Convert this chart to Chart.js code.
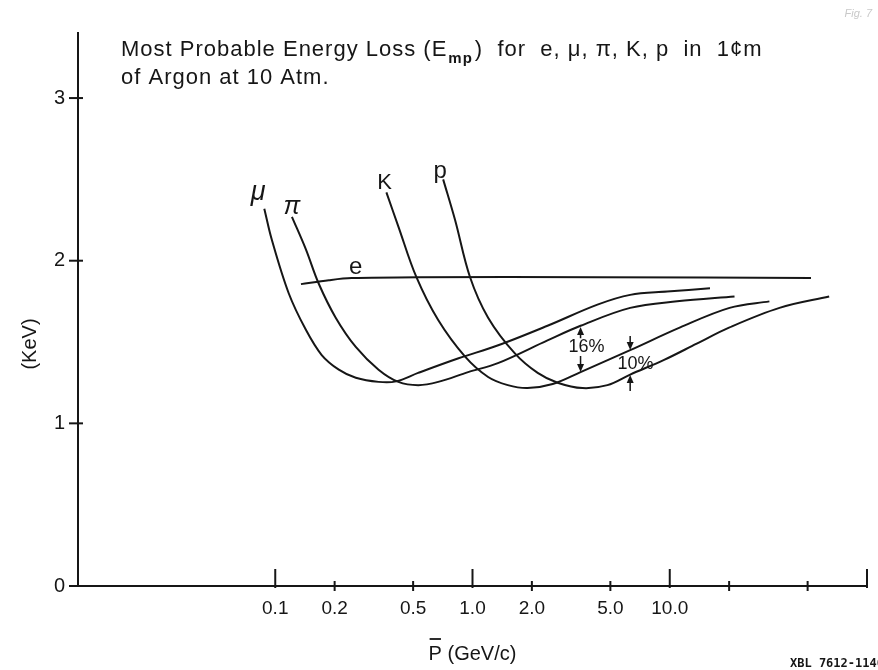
<!DOCTYPE html>
<html>
<head>
<meta charset="utf-8">
<script src="https://cdn.jsdelivr.net/npm/chart.js@4.4.1/dist/chart.umd.min.js"></script>
<style>
  html, body { margin: 0; padding: 0; background: #fff; }
  #wrap { width: 878px; height: 670px; }
</style>
</head>
<body>
<div id="wrap"><canvas id="grafico" width="878" height="670"></canvas></div>
<script>
// momentum (GeV/c) and most probable loss (keV)
const muP = [0.088, 0.096, 0.117, 0.143, 0.172, 0.21, 0.256, 0.334, 0.41, 0.53, 0.85, 1.35, 2.4, 4.3, 6.3, 9.7, 16];
const muE = [2.32, 2.13, 1.80, 1.575, 1.42, 1.33, 1.28, 1.255, 1.258, 1.31, 1.40, 1.48, 1.60, 1.73, 1.79, 1.81, 1.83];

const piP = [0.1215, 0.143, 0.166, 0.2025, 0.256, 0.334, 0.421, 0.531, 0.67, 0.95, 1.345, 2.4, 3.53, 6.3, 10.9, 21.3];
const piE = [2.27, 2.07, 1.86, 1.65, 1.47, 1.33, 1.255, 1.235, 1.255, 1.315, 1.37, 1.51, 1.60, 1.71, 1.75, 1.78];

const kP = [0.366, 0.421, 0.519, 0.67, 0.917, 1.2, 1.51, 1.9, 2.55, 3.53, 6.3, 11.3, 20.1, 32];
const kE = [2.42, 2.21, 1.90, 1.635, 1.41, 1.285, 1.235, 1.217, 1.242, 1.315, 1.45, 1.59, 1.71, 1.75];

const pP = [0.71, 0.816, 0.971, 1.2, 1.64, 2.14, 2.7, 3.61, 4.83, 6.3, 9.36, 13.7, 20.1, 36, 64.3];
const pE = [2.50, 2.25, 1.90, 1.65, 1.43, 1.31, 1.25, 1.217, 1.235, 1.30, 1.39, 1.49, 1.59, 1.71, 1.78];

const eP = [0.135, 0.187, 0.244, 0.531, 4.3, 52];
const eE = [1.856, 1.88, 1.893, 1.899, 1.899, 1.893];

const xTicks = [0.1, 0.2, 0.5, 1, 2, 5, 10, 20, 50, 100];
const xTickLabels = ["0.1", "0.2", "0.5", "1.0", "2.0", "5.0", "10.0", "", "", ""];
const yTicks = [0, 1, 2, 3];

// curve names, placed in data units
const curveLabels = [
  { text: "\u03bc", p: 0.082, e: 2.42, italic: true, size: 27 },
  { text: "\u03c0", p: 0.1215, e: 2.33, italic: true, size: 25 },
  { text: "K", p: 0.358, e: 2.48, size: 22 },
  { text: "p", p: 0.686, e: 2.55, size: 24 },
  { text: "e", p: 0.2555, e: 1.96, size: 24 }
];

// relative rise markers (keV ends of the arrows)
const riseMarks = [
  { p: 3.53, top: 1.592, gapTop: 1.524, gapBottom: 1.414, bottom: 1.315, text: "16%", tp: 3.78, te: 1.469, outward: true },
  { p: 6.3, top: 1.451, bottom: 1.297, text: "10%", tp: 6.7, te: 1.364, outward: false }
];

const ink = "#161616";
const fam = "'Liberation Sans', Arial, sans-serif";

const pts = (xs, ys) => xs.map((v, i) => ({ x: v, y: ys[i] }));

function linha(xs, ys) {
  return {
    data: pts(xs, ys),
    borderColor: ink,
    borderWidth: 2,
    pointRadius: 0,
    fill: false,
    tension: 0.35
  };
}

function seta(ctx, x, y, dir) {
  // filled arrow head, tip at (x,y); dir=-1 points up, 1 points down
  ctx.beginPath();
  ctx.moveTo(x, y);
  ctx.lineTo(x - 3.5, y - dir * 8);
  ctx.lineTo(x + 3.5, y - dir * 8);
  ctx.closePath();
  ctx.fill();
}

const desenho = {
  id: "desenho",
  afterDraw(chart) {
    const ctx = chart.ctx;
    const xs = chart.scales.x;
    const ys = chart.scales.y;
    const X = v => xs.getPixelForValue(v);
    const Y = v => ys.getPixelForValue(v);
    const y0 = Y(0);
    const x0 = chart.chartArea.left;

    ctx.save();
    ctx.strokeStyle = ink;
    ctx.fillStyle = ink;
    ctx.lineWidth = 2;

    // tick marks
    xTicks.forEach(v => {
      const x = X(v);
      const major = Math.abs(Math.log10(v) - Math.round(Math.log10(v))) < 1e-9;
      ctx.beginPath();
      ctx.moveTo(x, y0 + (major ? 2 : 5));
      ctx.lineTo(x, y0 - (major ? 17 : 5));
      ctx.stroke();
    });
    yTicks.forEach(v => {
      const y = Y(v);
      ctx.beginPath();
      ctx.moveTo(x0 - 9, y);
      ctx.lineTo(x0 + 5, y);
      ctx.stroke();
    });

    // title
    ctx.textBaseline = "alphabetic";
    ctx.textAlign = "left";
    ctx.letterSpacing = "1px";
    ctx.font = "22px " + fam;
    let tx = 121;
    const l1a = "Most Probable Energy Loss (E";
    ctx.fillText(l1a, tx, 56);
    tx += ctx.measureText(l1a).width;
    ctx.font = "bold 15px " + fam;
    ctx.fillText("mp", tx + 1, 63);
    tx += ctx.measureText("mp").width + 3;
    ctx.font = "22px " + fam;
    ctx.fillText(")  for  e, \u03bc, \u03c0, K, p  in  1\u00a2m", tx, 56);
    ctx.fillText("of Argon at 10 Atm.", 121, 84);
    ctx.letterSpacing = "0px";

    // curve names
    curveLabels.forEach(l => {
      ctx.font = (l.italic ? "italic " : "") + l.size + "px " + fam;
      ctx.textAlign = "center";
      ctx.textBaseline = "middle";
      ctx.fillText(l.text, X(l.p), Y(l.e));
    });

    // 16% and 10% markers
    ctx.lineWidth = 1.5;
    riseMarks.forEach(m => {
      const x = X(m.p);
      ctx.beginPath();
      if (m.outward) {
        ctx.moveTo(x, Y(m.gapTop)); ctx.lineTo(x, Y(m.top) + 6);
        ctx.moveTo(x, Y(m.gapBottom)); ctx.lineTo(x, Y(m.bottom) - 6);
        ctx.stroke();
        seta(ctx, x, Y(m.top), -1);
        seta(ctx, x, Y(m.bottom), 1);
      } else {
        ctx.moveTo(x, Y(m.top) - 14); ctx.lineTo(x, Y(m.top) - 6);
        ctx.moveTo(x, Y(m.bottom) + 16); ctx.lineTo(x, Y(m.bottom) + 6);
        ctx.stroke();
        seta(ctx, x, Y(m.top), 1);
        seta(ctx, x, Y(m.bottom), -1);
      }
      ctx.font = "18px " + fam;
      ctx.textAlign = "center";
      ctx.textBaseline = "middle";
      ctx.fillText(m.text, X(m.tp), Y(m.te));
    });

    // axis titles
    ctx.font = "20px " + fam;
    ctx.textAlign = "center";
    ctx.textBaseline = "middle";
    ctx.save();
    ctx.translate(30, 344);
    ctx.rotate(-Math.PI / 2);
    ctx.fillText("(KeV)", 0, 0);
    ctx.restore();

    const cx = (chart.chartArea.left + chart.chartArea.right) / 2;
    ctx.textAlign = "left";
    const tit = "P (GeV/c)";
    const tw = ctx.measureText(tit).width;
    const sx = cx - tw / 2;
    ctx.fillText(tit, sx, 654);
    const pw = ctx.measureText("P").width;
    ctx.lineWidth = 1.8;
    ctx.beginPath();
    ctx.moveTo(sx + 1, 639);
    ctx.lineTo(sx + pw - 1, 639);
    ctx.stroke();

    // plate number and faint pencil note
    ctx.font = "bold 12px 'DejaVu Sans Mono', monospace";
    ctx.fillText("XBL 7612-11409", 790, 664);
    ctx.fillStyle = "#c9c9c9";
    ctx.font = "italic 11px " + fam;
    ctx.textAlign = "right";
    ctx.fillText("Fig. 7", 872, 14);

    ctx.restore();
  }
};

new Chart(document.getElementById("grafico"), {
  type: "line",
  data: {
    datasets: [
      linha(muP, muE),
      linha(piP, piE),
      linha(kP, kE),
      linha(pP, pE),
      linha(eP, eE)
    ]
  },
  options: {
    responsive: false,
    animation: false,
    devicePixelRatio: 1,
    layout: { padding: { top: 33, right: 7, left: 0, bottom: 0 } },
    plugins: {
      legend: { display: false },
      tooltip: { enabled: false }
    },
    scales: {
      x: {
        type: "logarithmic",
        min: 0.01,
        max: 100,
        afterBuildTicks: s => { s.ticks = xTicks.map(v => ({ value: v })); },
        afterFit: s => { s.height = 84; },
        grid: { display: false, drawTicks: false },
        border: { display: true, color: ink, width: 2 },
        ticks: {
          autoSkip: false,
          maxRotation: 0,
          padding: 11,
          color: ink,
          font: { family: fam, size: 19 },
          callback: (v, i) => xTickLabels[i]
        }
      },
      y: {
        type: "linear",
        min: 0,
        max: 3.4,
        afterBuildTicks: s => { s.ticks = yTicks.map(v => ({ value: v })); },
        afterFit: s => { s.width = 78; },
        grid: { display: false, drawTicks: false },
        border: { display: true, color: ink, width: 2 },
        ticks: {
          padding: 13,
          color: ink,
          font: { family: fam, size: 20 },
          callback: v => String(v)
        }
      }
    }
  },
  plugins: [desenho]
});
</script>
</body>
</html>
